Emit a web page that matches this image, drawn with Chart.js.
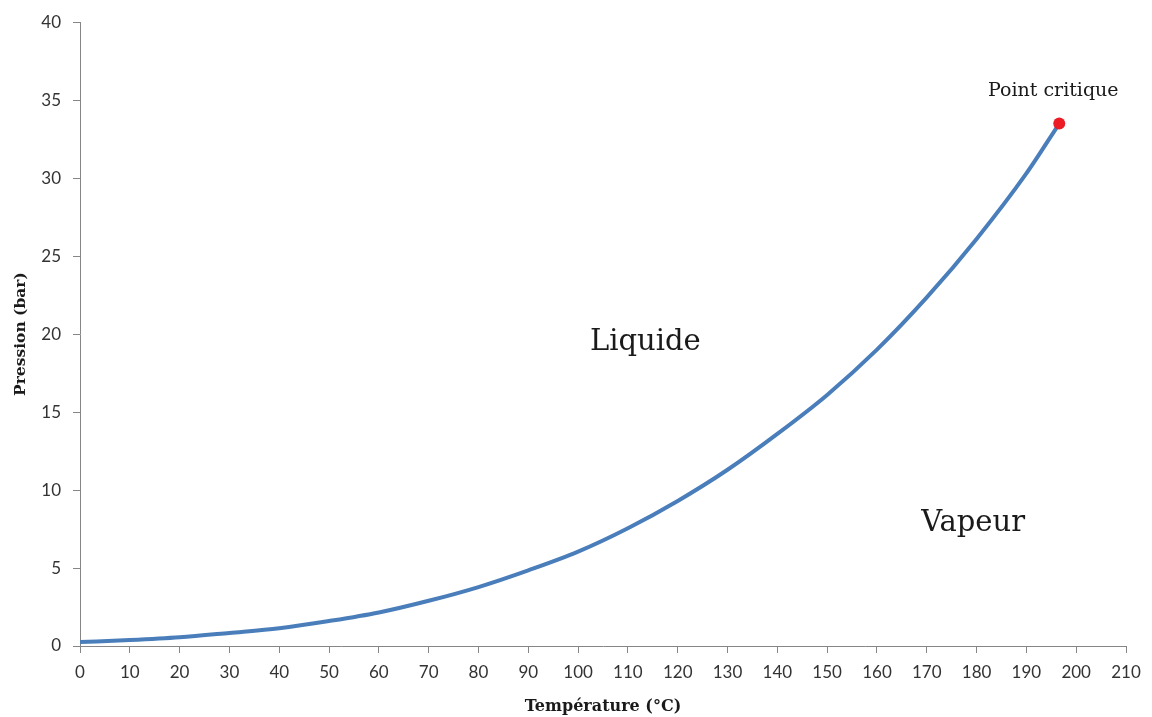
<!DOCTYPE html>
<html>
<head>
<meta charset="utf-8">
<script src="https://cdn.jsdelivr.net/npm/chart.js@4"></script>
<style>
  html, body { margin: 0; padding: 0; background: #ffffff; }
  #wrap { width: 1152px; height: 717px; position: relative; }
</style>
</head>
<body>
<div id="wrap"><canvas id="c"></canvas></div>
<script>
// Data
const temperatures = [0, 10, 20, 30, 40, 50, 60, 70, 80, 90, 100, 110, 120, 130, 140, 150, 160, 170, 180, 190, 196.6];
const pressures = [0.25, 0.38, 0.56, 0.84, 1.14, 1.6, 2.15, 2.9, 3.78, 4.85, 6.05, 7.55, 9.3, 11.3, 13.6, 16.1, 19.0, 22.35, 26.1, 30.3, 33.5];
const criticalPoint = { T: 196.6, P: 33.5 };
const xTicks = { min: 0, max: 210, step: 10 };
const yTicks = { min: 0, max: 40, step: 5 };
const xTitle = 'Température (°C)';
const yTitle = 'Pression (bar)';
const regionLabels = ['Liquide', 'Vapeur', 'Point critique'];

const curve = temperatures.map((t, i) => ({ x: t, y: pressures[i] }));

const textPlugin = {
  id: 'regionText',
  afterDatasetsDraw(chart, args, opts) {
    const { ctx, scales: { x, y } } = chart;
    ctx.save();
    ctx.fillStyle = '#1a1a1a';
    ctx.textAlign = 'center';
    ctx.textBaseline = 'middle';
    opts.items.forEach(it => {
      ctx.font = it.font;
      ctx.fillText(it.text, x.getPixelForValue(it.x), y.getPixelForValue(it.y));
    });
    ctx.restore();
  }
};

const axisGray = '#868686';

new Chart(document.getElementById('c'), {
  type: 'line',
  data: {
    datasets: [
      {
        data: curve,
        borderColor: '#4A7EBB',
        borderWidth: 4,
        pointRadius: 0,
        fill: false,
        cubicInterpolationMode: 'monotone',
        order: 2
      },
      {
        data: [{ x: criticalPoint.T, y: criticalPoint.P }],
        showLine: false,
        pointRadius: 6,
        pointBackgroundColor: '#ED1C24',
        pointBorderColor: '#ED1C24',
        pointBorderWidth: 0,
        order: 1
      }
    ]
  },
  plugins: [textPlugin],
  options: {
    responsive: true,
    maintainAspectRatio: false,
    animation: false,
    layout: { padding: { top: 20, right: 26, left: 0, bottom: 0 } },
    plugins: {
      legend: { display: false },
      tooltip: { enabled: false },
      regionText: {
        items: [
          { text: regionLabels[0], x: 113.5, y: 19.45, font: '29px "DejaVu Serif"' },
          { text: regionLabels[1], x: 179.3, y: 7.85, font: '29px "DejaVu Serif"' },
          { text: regionLabels[2], x: 195.4, y: 35.6, font: '19px "DejaVu Serif"' }
        ]
      }
    },
    scales: {
      x: {
        type: 'linear',
        min: xTicks.min,
        max: xTicks.max,
        afterFit(s) { s.height = 71; },
        ticks: {
          stepSize: xTicks.step,
          autoSkip: false,
          maxRotation: 0,
          color: '#333333',
          font: { family: 'Lato', size: 17 },
          padding: 9
        },
        grid: {
          drawOnChartArea: false,
          drawTicks: true,
          tickLength: 7,
          color: axisGray
        },
        border: { display: true, color: axisGray, width: 1 },
        title: {
          display: true,
          text: xTitle,
          color: '#1a1a1a',
          font: { family: 'DejaVu Serif', size: 16, weight: 'bold' },
          padding: { top: 0, bottom: 1 }
        }
      },
      y: {
        type: 'linear',
        min: yTicks.min,
        max: yTicks.max,
        afterFit(s) { s.width = 80; },
        ticks: {
          stepSize: yTicks.step,
          color: '#333333',
          font: { family: 'Lato', size: 17 },
          padding: 12
        },
        grid: {
          drawOnChartArea: false,
          drawTicks: true,
          tickLength: 7,
          color: axisGray
        },
        border: { display: true, color: axisGray, width: 1 },
        title: {
          display: true,
          text: yTitle,
          color: '#1a1a1a',
          font: { family: 'DejaVu Serif', size: 15.5, weight: 'bold' },
          padding: { top: 12, bottom: 0 }
        }
      }
    }
  }
});
</script>
</body>
</html>
